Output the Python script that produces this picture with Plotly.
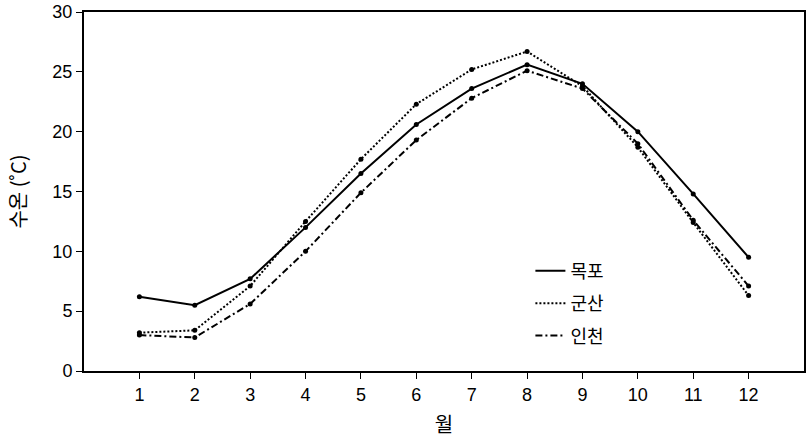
import plotly.graph_objects as go

months = list(range(1, 13))
mokpo = [6.2, 5.5, 7.7, 12.0, 16.5, 20.6, 23.6, 25.6, 24.0, 20.0, 14.8, 9.5]
gunsan = [3.2, 3.4, 7.1, 12.5, 17.7, 22.3, 25.2, 26.7, 23.8, 18.7, 12.4, 6.3]
incheon = [3.0, 2.8, 5.6, 10.0, 14.9, 19.3, 22.8, 25.1, 23.6, 19.0, 12.6, 7.1]

series_names = ["목포", "군산", "인천"]
series_vals = [mokpo, gunsan, incheon]
dashes = ["solid", "2px,2px", "7px,3px,2px,3px"]

LAT = "Liberation Sans, Arial, sans-serif"
KR = "Noto Sans CJK KR, sans-serif"

fig = go.Figure()
for i, (name, vals, dash) in enumerate(zip(series_names, series_vals, dashes)):
    fig.add_trace(go.Scatter(
        x=months, y=vals, name=name, mode="lines+markers",
        line=dict(color="black", width=2, dash=dash),
        marker=dict(color="black", size=5),
        showlegend=False, legendgroup=f"g{i}",
    ))
    # legend entry without marker
    fig.add_trace(go.Scatter(
        x=[None], y=[None], name=name, mode="lines",
        line=dict(color="black", width=2, dash=dash),
        showlegend=True, legendgroup=f"g{i}",
    ))

fig.update_layout(
    width=806, height=438,
    margin=dict(l=84, r=2, t=12, b=67),
    paper_bgcolor="white", plot_bgcolor="white",
    showlegend=True,
    legend=dict(
        x=0.62, y=0.33, xanchor="left", yanchor="top",
        font=dict(family=KR, size=18, color="black"),
        bgcolor="rgba(0,0,0,0)", tracegroupgap=6,
    ),
    font=dict(family=LAT, color="black"),
)
fig.update_xaxes(
    range=[0, 13], tickvals=months, ticktext=[str(m) for m in months],
    showline=True, linecolor="black", linewidth=2, mirror=True,
    ticks="outside", ticklen=6, tickcolor="black", tickwidth=1,
    showgrid=False, zeroline=False, automargin=False,
    tickfont=dict(family=LAT, size=18, color="black"),
    title=dict(text="월", font=dict(family=KR, size=20, color="black"), standoff=22),
)
fig.update_yaxes(
    range=[0, 30], tickvals=[0, 5, 10, 15, 20, 25, 30],
    showline=True, linecolor="black", linewidth=2, mirror=True,
    ticks="outside", ticklen=6, tickcolor="black", tickwidth=1,
    showgrid=False, zeroline=False, automargin=False,
    tickfont=dict(family=LAT, size=18, color="black"),
    title=dict(text="수온 (˚C)", font=dict(family=KR, size=20, color="black"), standoff=20),
)

fig.write_html("out.html")
